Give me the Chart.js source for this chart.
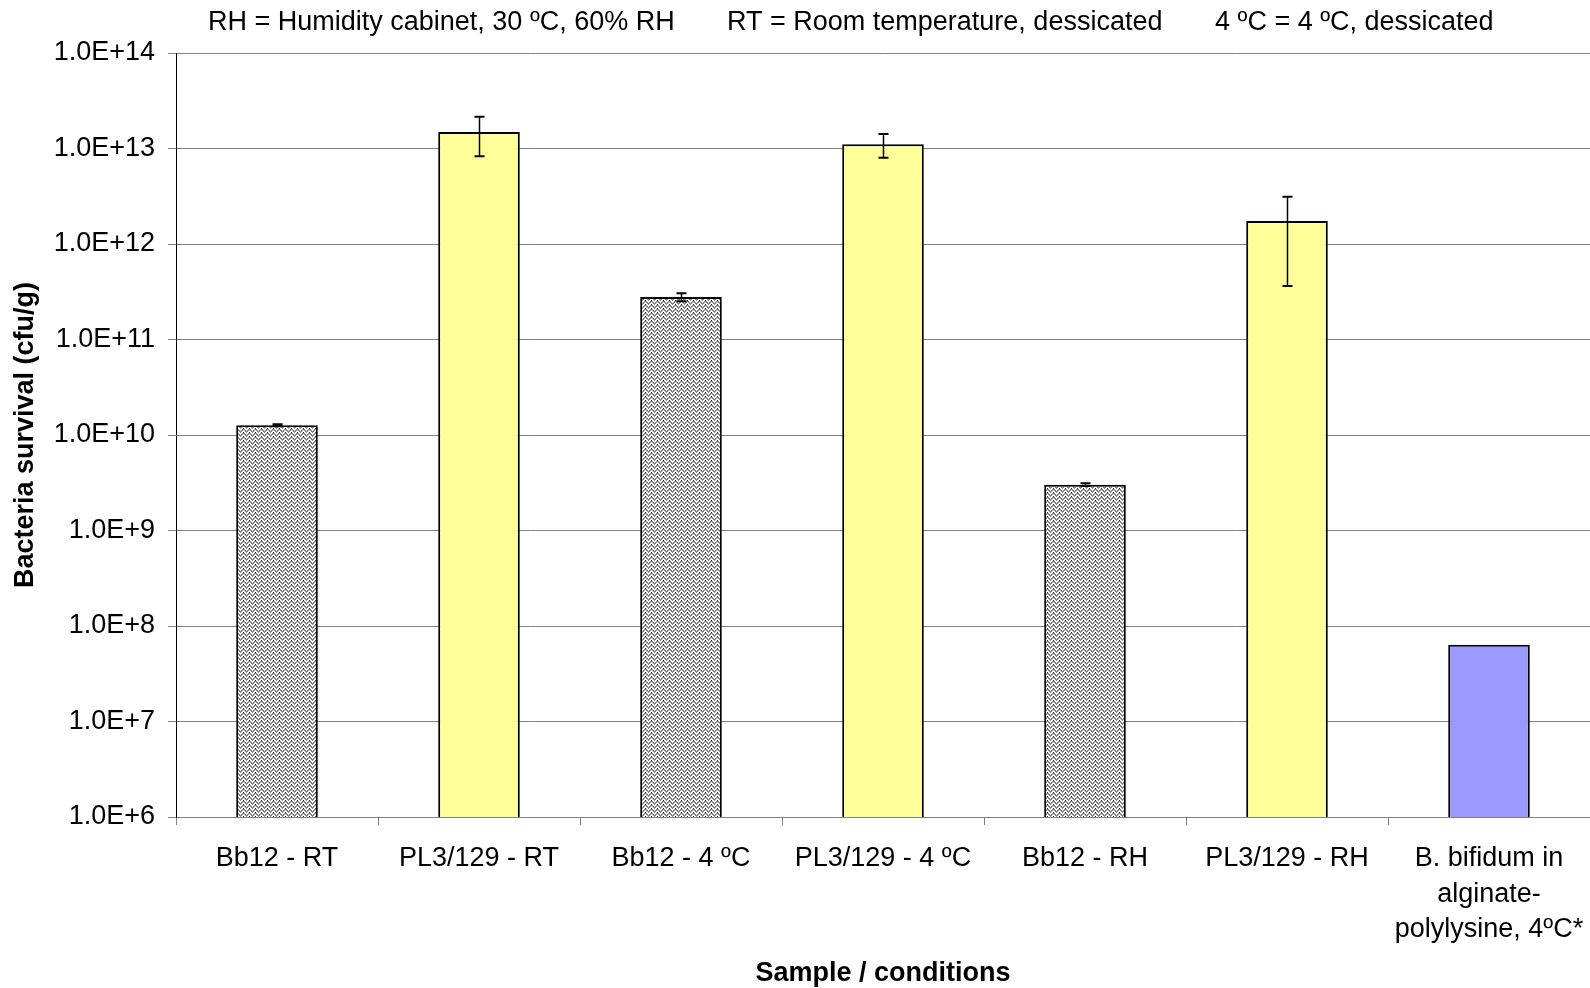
<!DOCTYPE html>
<html>
<head>
<meta charset="utf-8">
<script src="https://cdn.jsdelivr.net/npm/chart.js@4"></script>
<style>
html,body{margin:0;padding:0;background:#fff;}
#wrap{width:1590px;height:988px;overflow:hidden;}
</style>
</head>
<body>
<div id="wrap"><canvas id="c" width="1590" height="988"></canvas></div>
<script>
const categories = ["Bb12 - RT", "PL3/129 - RT", "Bb12 - 4 ºC", "PL3/129 - 4 ºC", "Bb12 - RH", "PL3/129 - RH", ["B. bifidum in", "alginate-", "polylysine, 4ºC*"]];
const survival = [1.265e10, 1.49e13, 2.78e11, 1.11e13, 3.02e9, 1.744e12, 6.36e7];
const survivalError = [3e8, 0.66e13, 0.27e11, 0.31e13, 0.1e9, 1.38e12, 0];
const barKind = ["pattern", "yellow", "pattern", "yellow", "pattern", "yellow", "blue"];
const yTicks = [1e6, 1e7, 1e8, 1e9, 1e10, 1e11, 1e12, 1e13, 1e14];
const legendNotes = ["RH = Humidity cabinet, 30 ºC, 60% RH", "RT = Room temperature, dessicated", "4 ºC = 4 ºC, dessicated"];
const xTitle = "Sample / conditions";
const yTitle = "Bacteria survival (cfu/g)";

const FONT = "'Liberation Sans', Arial, sans-serif";

function makePattern() {
  const c = document.createElement('canvas');
  c.width = 6; c.height = 4;
  const g = c.getContext('2d');
  g.fillStyle = '#ffffff';
  g.fillRect(0, 0, 6, 4);
  const line = [3, 2, 1, 0, 1, 2];
  for (let x = 0; x < 6; x++) {
    const y0 = line[x];
    g.fillStyle = '#858585';
    g.fillRect(x, y0, 1, 1);
    g.fillRect(x, (y0 + 1) % 4, 1, 1);
  }
  g.fillStyle = '#222';
  g.fillRect(3, 0, 1, 1);
  return g.createPattern(c, 'repeat');
}
const pattern = makePattern();
const colorMap = { pattern: pattern, yellow: '#FFFF99', blue: '#9999FF' };

const notesPlugin = {
  id: 'notes',
  afterDraw(chart) {
    const ctx = chart.ctx;
    ctx.save();
    ctx.font = '27px ' + FONT;
    ctx.fillStyle = '#000';
    ctx.textBaseline = 'middle';
    ctx.textAlign = 'left';
    const xs = [208, 727, 1215];
    legendNotes.forEach((t, i) => ctx.fillText(t, xs[i], 23));
    ctx.restore();
  }
};

const errorPlugin = {
  id: 'errorbars',
  afterDatasetsDraw(chart) {
    const ctx = chart.ctx;
    const meta = chart.getDatasetMeta(0);
    const y = chart.scales.y;
    ctx.save();
    ctx.strokeStyle = '#000';
    meta.data.forEach((bar, i) => {
      const e = survivalError[i];
      if (!e) return;
      const v = survival[i];
      const yt = y.getPixelForValue(v + e);
      const yb = y.getPixelForValue(v - e);
      const x = Math.round(bar.x) + 0.5;
      ctx.lineWidth = 1.5;
      ctx.beginPath();
      ctx.moveTo(x, yt); ctx.lineTo(x, yb);
      ctx.stroke();
      ctx.lineWidth = 2;
      ctx.beginPath();
      ctx.moveTo(x - 5, yt); ctx.lineTo(x + 5, yt);
      ctx.moveTo(x - 5, yb); ctx.lineTo(x + 5, yb);
      ctx.stroke();
    });
    ctx.restore();
  }
};

Chart.defaults.font.family = FONT;
Chart.defaults.color = '#000';

new Chart(document.getElementById('c'), {
  type: 'bar',
  data: {
    labels: categories,
    datasets: [{
      data: survival,
      backgroundColor: barKind.map(k => colorMap[k]),
      borderColor: '#000',
      borderWidth: 2,
      barPercentage: 0.404,
      categoryPercentage: 1.0
    }]
  },
  options: {
    responsive: false,
    animation: false,
    layout: { padding: { top: 53, right: -2, bottom: 0, left: 0 } },
    plugins: { legend: { display: false }, tooltip: { enabled: false }, title: { display: false } },
    scales: {
      x: {
        type: 'category',
        offset: true,
        grid: { display: true, drawOnChartArea: false, drawTicks: true, tickLength: 8, color: '#808080', offset: true },
        border: { display: true, color: '#808080', width: 1 },
        ticks: { font: { size: 27, lineHeight: 1.315 }, padding: 16, maxRotation: 0, minRotation: 0, autoSkip: false, color: '#000' },
        title: { display: true, text: xTitle, font: { size: 27, weight: 'bold' }, padding: { top: 0, bottom: -2 }, color: '#000' },
        afterFit(scale) { scale.height = 171; scale.paddingLeft = 0; scale.paddingRight = 0; }
      },
      y: {
        type: 'logarithmic',
        min: 1e6,
        max: 1e14,
        grid: { color: '#808080', lineWidth: 1, tickLength: 8 },
        border: { display: true, color: '#000', width: 1 },
        ticks: {
          font: { size: 27 },
          padding: 13,
          color: '#000',
          autoSkip: false,
          callback: (v) => Number(v).toExponential(1).toUpperCase()
        },
        afterBuildTicks(scale) { scale.ticks = yTicks.map(v => ({ value: v, major: true })); },
        title: { display: true, text: yTitle, font: { size: 27, weight: 'bold' }, padding: { top: 9, bottom: 0 }, color: '#000' },
        afterFit(scale) { scale.width = 176; }
      }
    }
  },
  plugins: [notesPlugin, errorPlugin]
});
</script>
</body>
</html>
